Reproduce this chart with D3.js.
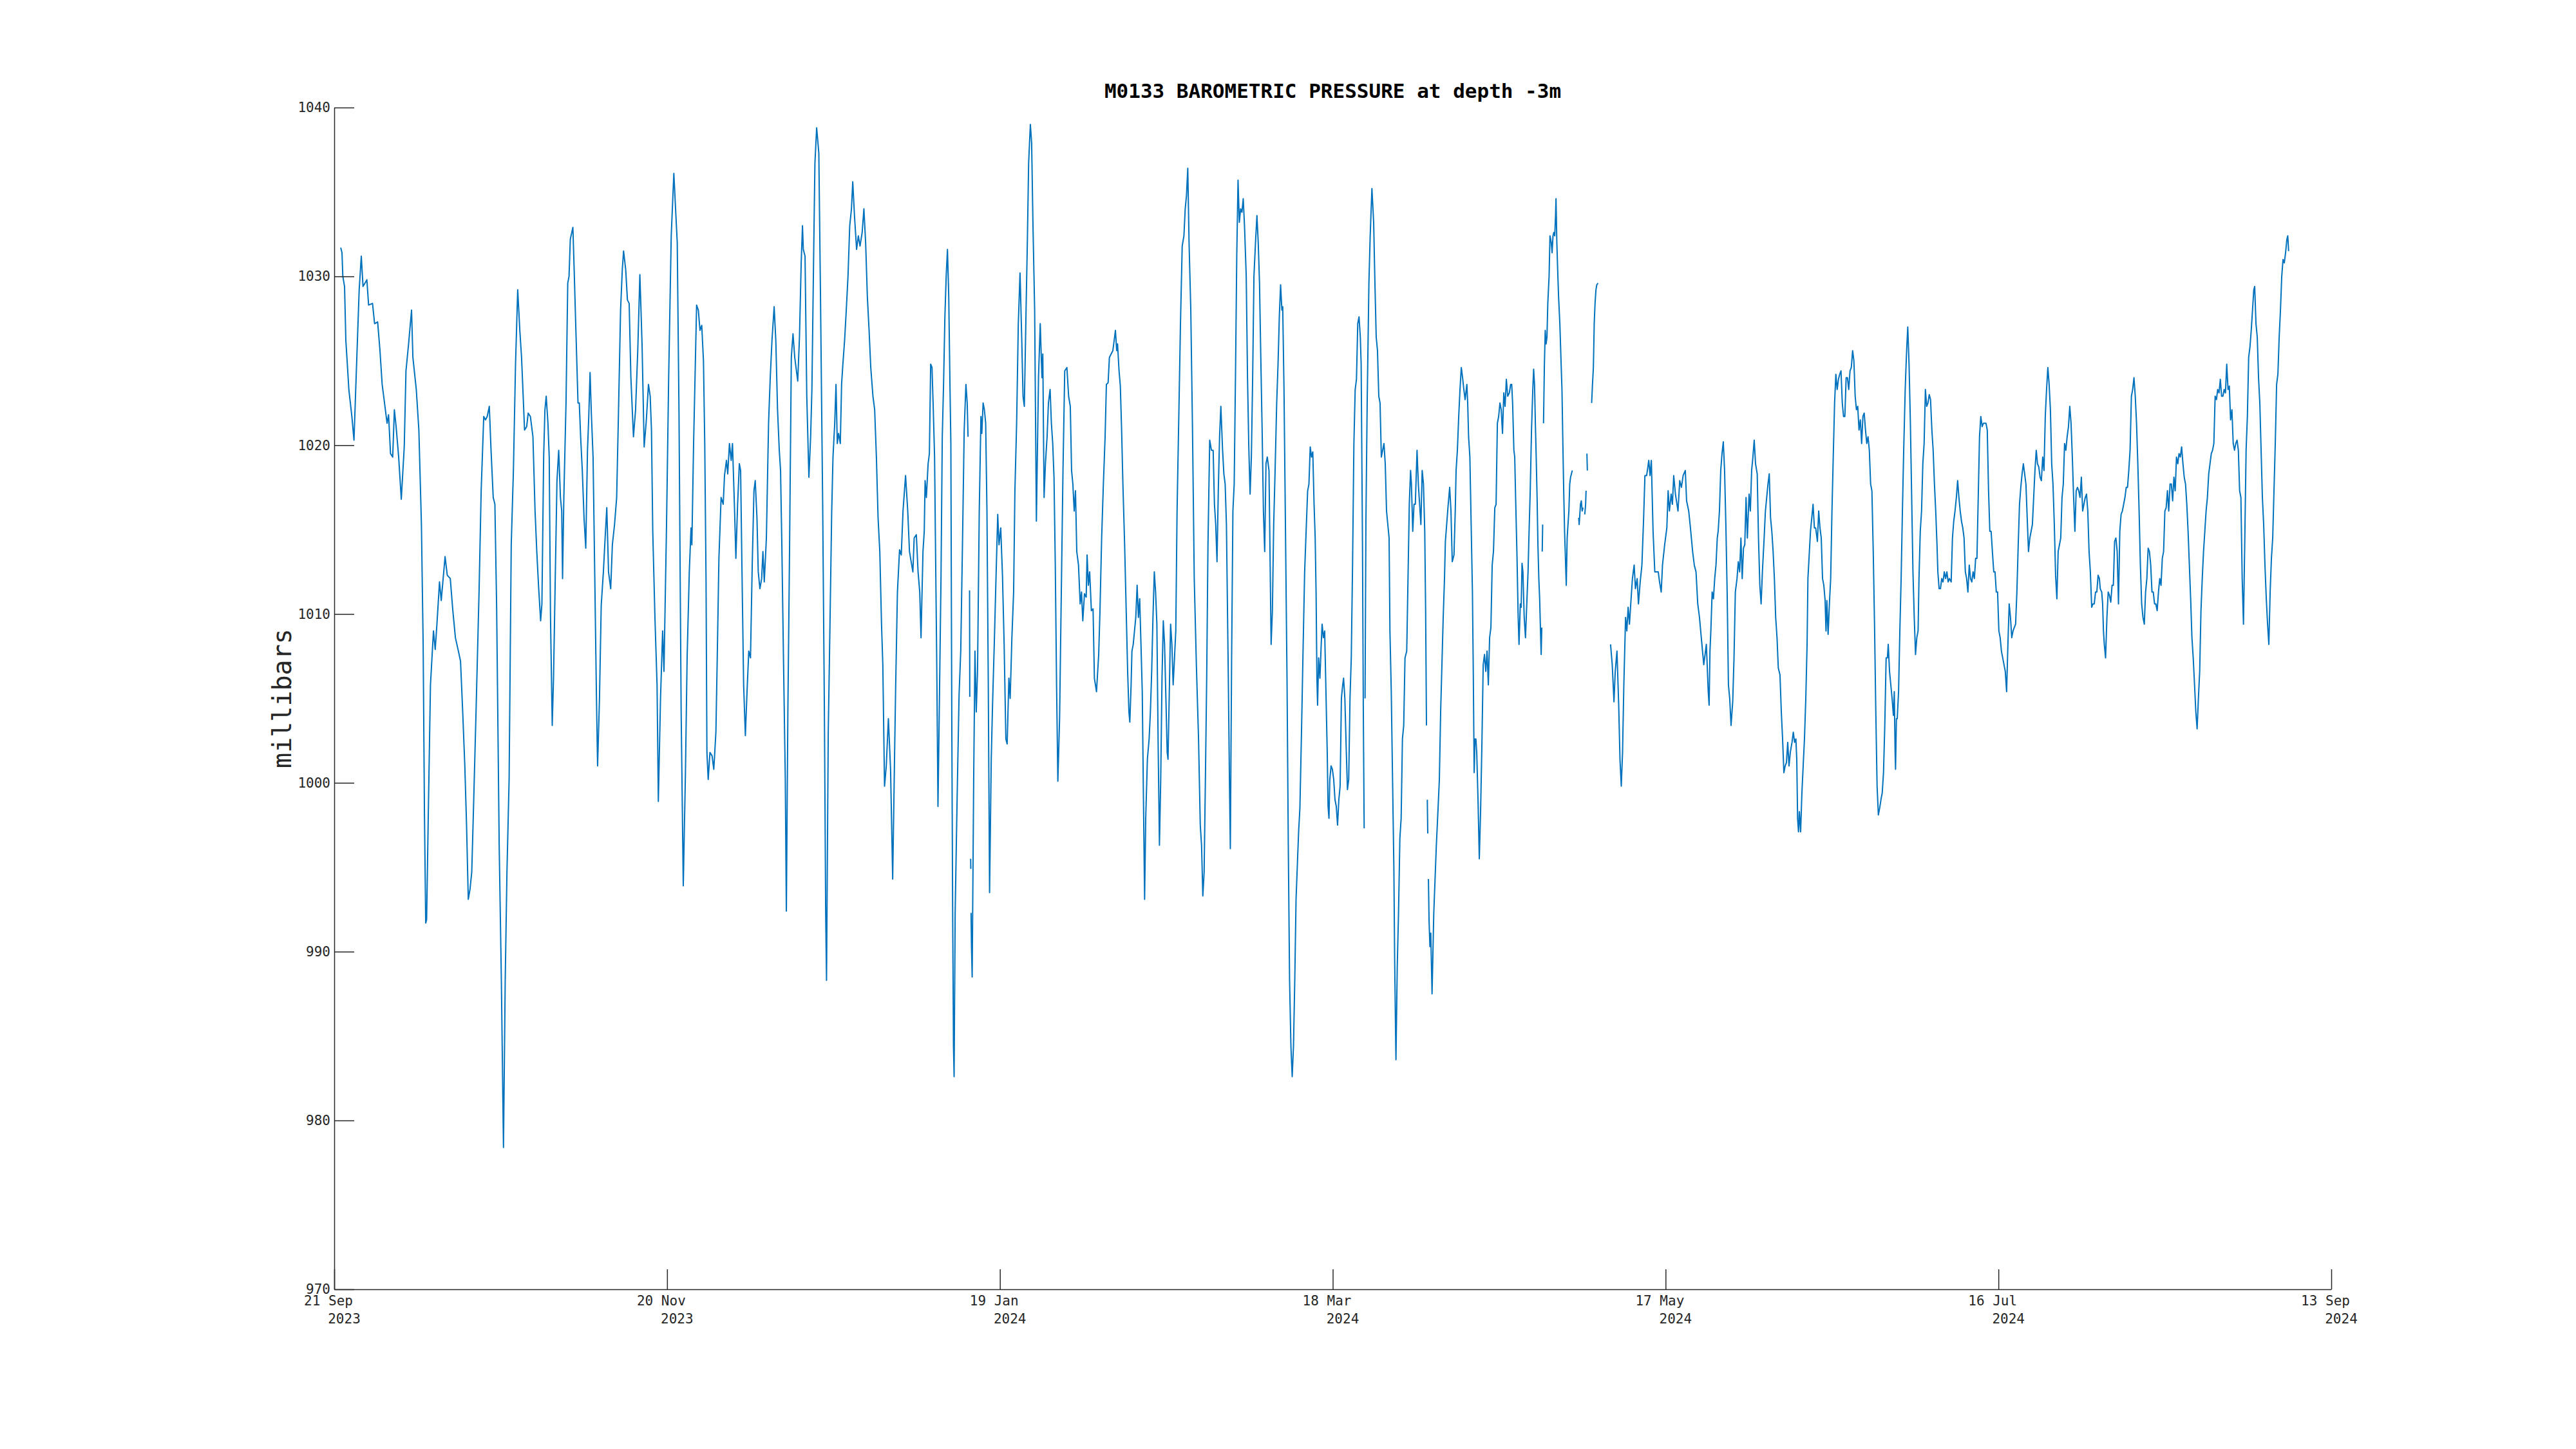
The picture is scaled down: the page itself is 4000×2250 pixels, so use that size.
<!DOCTYPE html>
<html>
<head>
<meta charset="utf-8">
<script src="https://cdn.jsdelivr.net/npm/d3@7"></script>
<style>
body { margin: 0; background: #fff; }
text { font-family: "DejaVu Sans Mono", monospace; }
</style>
</head>
<body>
<script>
// time axis: days counted from 21 Sep 2023
const startDate = Date.UTC(2023, 8, 21);
const spanDays = 358;
const tickDay = ["21 Sep", "20 Nov", "19 Jan", "18 Mar", "17 May", "16 Jul", "13 Sep"];
const tickYear = ["2023", "2023", "2024", "2024", "2024", "2024", "2024"];
const yTicks = [970, 980, 990, 1000, 1010, 1020, 1030, 1040];

// readings [day, millibars], null marks a gap in the record
// 21 Sep - 26 Oct
const seg01 = [
  [1.16,1031.7],[1.39,1031.4],[1.54,1030.0],[1.85,1029.4],[2.08,1026.2],[2.31,1025.0],[2.62,1023.3],[3.16,1021.7],[3.54,1020.3],[3.85,1023.3],
  [4.47,1029.2],[4.85,1031.2],[5.16,1029.4],[5.85,1029.8],[6.16,1028.3],[6.86,1028.4],[7.24,1027.2],[7.78,1027.3],[8.20,1025.6],[8.59,1023.6],
  [9.09,1022.3],[9.47,1021.3],[9.74,1021.8],[10.09,1019.5],[10.48,1019.3],[10.78,1022.1],[11.09,1021.1],[11.55,1019.3],[12.02,1016.8],[12.55,1019.9],
  [12.86,1024.4],[13.33,1026.0],[13.86,1028.0],[14.10,1025.2],[14.71,1023.3],[15.17,1020.9],[15.63,1015.3],[15.94,1008.2],[16.17,998.3],[16.40,991.7],
  [16.56,991.9],[16.87,998.3],[17.25,1005.8],[17.79,1009.0],[18.10,1007.9],[18.41,1009.4],[18.87,1011.9],[19.18,1010.8],[19.87,1013.4],[20.26,1012.3],
  [20.80,1012.1],[21.26,1010.2],[21.72,1008.6],[22.26,1007.8],[22.64,1007.2],[23.03,1004.2],[23.41,1001.0],[23.72,997.5],[24.03,993.1],[24.34,993.7],
  [24.65,994.7],[24.95,998.3],[25.42,1004.2],[25.96,1011.3],[26.34,1017.3],[26.80,1021.7],[27.11,1021.5],[27.42,1021.7],[27.80,1022.3],[28.11,1019.7],
  [28.50,1016.9],[28.80,1016.5],[29.11,1010.5],[29.57,996.3],[29.96,988.3],[30.34,978.4],[30.65,988.3],[30.96,994.7],[31.35,1000.2],[31.73,1014.1],
  [32.12,1018.5],[32.50,1024.8],[32.89,1029.2],[33.27,1026.8],[33.58,1025.2],[34.12,1020.9],[34.50,1021.1],[34.77,1021.9]
];
// 26 Oct - 30 Nov
const seg02 = [
  [35.16,1021.7],[35.62,1020.5],[36.00,1016.1],[36.31,1013.7],[36.62,1011.7],[37.00,1009.6],[37.23,1010.6],[37.54,1019.3],[37.77,1022.1],[38.00,1022.9],
  [38.31,1021.3],[38.54,1019.3],[38.77,1009.8],[39.08,1003.4],[39.31,1006.2],[39.62,1012.1],[39.93,1017.9],[40.24,1019.7],[40.55,1016.9],[40.78,1016.1],
  [40.93,1012.1],[41.16,1016.9],[41.55,1022.5],[41.86,1029.6],[42.09,1030.0],[42.32,1032.2],[42.78,1032.9],[43.01,1030.4],[43.32,1026.8],[43.70,1022.5],
  [43.93,1022.5],[44.17,1020.5],[44.47,1018.5],[44.78,1015.7],[45.09,1013.9],[45.40,1019.7],[45.63,1021.7],[45.86,1024.3],[46.09,1021.9],[46.40,1019.3],
  [46.71,1012.1],[47.01,1005.0],[47.21,1001.0],[47.55,1005.0],[47.86,1010.5],[48.25,1012.5],[48.56,1014.5],[48.86,1016.3],[49.17,1012.5],[49.56,1011.5],
  [49.86,1014.1],[50.25,1015.3],[50.63,1016.9],[50.94,1021.7],[51.33,1028.0],[51.64,1030.4],[51.87,1031.5],[52.25,1030.4],[52.56,1028.6],[52.87,1028.4],
  [53.18,1024.0],[53.64,1020.5],[54.02,1022.1],[54.41,1025.6],[54.79,1030.1],[55.18,1026.0],[55.56,1019.9],[55.95,1021.5],[56.33,1023.6],[56.64,1022.9],
  [56.87,1020.9],[57.10,1014.9],[57.49,1009.8],[57.87,1005.8],[58.10,998.9],[58.49,1005.0],[58.87,1009.0],[59.11,1006.6],[59.57,1015.3],[59.95,1024.0],
  [60.41,1032.4],[60.88,1036.1],[61.19,1034.0],[61.49,1032.0],[61.80,1022.1],[62.19,1004.2],[62.57,993.9],[62.96,1000.6],[63.26,1007.4],[63.65,1012.5],
  [63.96,1015.1],[64.11,1014.1],[64.42,1020.1],[64.73,1024.8],[64.96,1028.3],[65.27,1028.0],[65.57,1026.8],[65.88,1027.1],[66.19,1025.0],[66.42,1020.1],
  [66.65,1012.1],[66.81,1001.8],[67.04,1000.2],[67.35,1001.8],[67.73,1001.6],[68.04,1000.8],[68.42,1003.0],[68.66,1007.4],[68.96,1013.3],[69.35,1016.9],
  [69.73,1016.5],[69.96,1018.2]
];
// 30 Nov - 4 Jan
const seg03 = [
  [70.31,1019.1],[70.54,1018.3],[70.85,1020.1],[71.16,1019.1],[71.39,1020.1],[71.62,1017.7],[71.77,1016.1],[72.00,1013.3],[72.31,1016.5],[72.62,1018.9],
  [72.85,1018.5],[73.08,1012.9],[73.39,1005.8],[73.70,1002.8],[74.00,1005.4],[74.31,1007.8],[74.62,1007.4],[74.93,1012.9],[75.24,1017.3],[75.47,1017.9],
  [75.78,1015.7],[76.01,1012.5],[76.31,1011.5],[76.62,1012.1],[76.85,1013.7],[77.09,1011.9],[77.47,1014.5],[77.86,1021.3],[78.16,1024.0],[78.47,1026.2],
  [78.86,1028.2],[79.16,1026.2],[79.47,1022.1],[79.78,1019.7],[80.01,1018.5],[80.24,1014.1],[80.55,1007.0],[80.86,1000.2],[81.05,992.4],[81.32,1004.2],
  [81.63,1014.1],[81.94,1025.2],[82.24,1026.6],[82.55,1025.2],[82.78,1024.6],[83.09,1023.8],[83.40,1026.4],[83.71,1030.8],[83.94,1033.0],[84.09,1031.6],
  [84.40,1031.2],[84.71,1022.9],[85.09,1018.1],[85.40,1020.5],[85.63,1023.3],[85.94,1031.2],[86.17,1036.7],[86.48,1038.8],[86.87,1037.3],[87.17,1028.8],
  [87.56,1016.5],[87.87,1004.2],[88.10,992.3],[88.25,988.3],[88.56,1003.0],[88.87,1009.4],[89.18,1016.1],[89.41,1019.3],[89.72,1021.3],[89.95,1023.6],
  [90.18,1020.1],[90.41,1020.7],[90.72,1020.1],[90.95,1023.6],[91.18,1024.8],[91.49,1026.2],[91.79,1028.0],[92.10,1030.0],[92.41,1033.0],[92.72,1034.0],
  [92.95,1035.6],[93.26,1033.6],[93.64,1031.6],[93.95,1032.4],[94.26,1031.8],[94.64,1032.6],[94.95,1034.0],[95.26,1032.0],[95.57,1028.8],[95.88,1026.8],
  [96.18,1024.6],[96.57,1022.9],[96.88,1022.1],[97.19,1019.3],[97.49,1015.7],[97.80,1013.7],[98.11,1009.4],[98.34,1007.0],[98.65,999.8],[98.96,1001.0],
  [99.34,1003.8],[99.73,1000.8],[100.11,994.3],[100.42,1001.0],[100.65,1005.8],[100.96,1011.3],[101.34,1013.8],[101.65,1013.5],[101.96,1016.1],[102.42,1018.2],
  [102.81,1016.1],[103.12,1013.7],[103.42,1013.1],[103.73,1012.5],[103.96,1014.5],[104.35,1014.7],[104.66,1012.5],[104.96,1011.3],[105.19,1008.6]
];
// 4 Jan - 8 Feb
const seg04 = [
  [105.54,1013.7],[105.77,1014.9],[105.92,1017.9],[106.15,1016.9],[106.46,1018.9],[106.69,1019.5],[106.92,1024.8],[107.16,1024.6],[107.39,1022.1],[107.62,1019.3],
  [107.77,1014.5],[108.00,1007.4],[108.23,998.6],[108.46,1004.2],[108.77,1012.1],[109.00,1020.5],[109.23,1023.6],[109.47,1027.6],[109.70,1030.0],[109.93,1031.6],
  [110.16,1028.8],[110.39,1023.3],[110.54,1020.1],[110.70,1004.2],[110.85,993.1],[111.01,984.4],[111.12,982.6],[111.31,992.3],[111.62,998.3],[112.01,1005.2],
  [112.31,1007.8],[112.62,1014.1],[112.93,1020.9],[113.24,1023.6],[113.47,1022.5],[113.62,1020.5],[113.7,null],[113.89,1011.4],[113.93,1005.1],[114.0,null],
  [114.09,995.5],[114.12,994.9],[114.14,null],[114.16,992.3],[114.24,990.3],[114.36,988.5],[114.63,1000.2],[114.86,1007.8],[115.09,1004.2],[115.32,1006.6],
  [115.63,1016.1],[115.93,1021.7],[116.09,1020.7],[116.32,1022.5],[116.55,1022.1],[116.78,1021.3],[117.01,1016.1],[117.24,1006.2],[117.48,993.5],[117.78,1001.4],
  [118.01,1004.6],[118.32,1008.2],[118.63,1012.1],[118.94,1015.9],[119.17,1014.1],[119.48,1015.1],[119.79,1012.3],[120.09,1008.2],[120.40,1002.6],[120.63,1002.3],
  [120.94,1006.2],[121.17,1005.0],[121.48,1008.6],[121.79,1011.3],[122.02,1017.3],[122.33,1021.3],[122.63,1027.2],[122.94,1030.2],[123.25,1026.2],[123.48,1022.9],
  [123.71,1022.3],[124.02,1028.0],[124.25,1032.0],[124.48,1036.7],[124.79,1039.0],[125.02,1037.9],[125.25,1033.2],[125.56,1028.0],[125.87,1015.5],[126.25,1024.0],
  [126.56,1027.2],[126.87,1024.0],[127.02,1025.4],[127.25,1016.9],[127.49,1018.9],[127.79,1020.5],[128.03,1022.5],[128.33,1023.3],[128.56,1021.3],[128.80,1020.1],
  [129.03,1018.1],[129.26,1012.9],[129.49,1005.8],[129.72,1000.1],[130.03,1003.8],[130.34,1011.3],[130.64,1018.5],[130.95,1024.4],[131.34,1024.6],[131.65,1022.9],
  [131.95,1022.3],[132.18,1018.5],[132.41,1017.7],[132.65,1016.1],[132.88,1017.3],[133.11,1013.7],[133.42,1012.9],[133.72,1010.6],[133.96,1011.3],[134.19,1009.6],
  [134.49,1011.2],[134.80,1011.0],[134.96,1013.5],[135.19,1011.7],[135.42,1012.5],[135.73,1010.2],[136.03,1010.3],[136.27,1006.2],[136.65,1005.4],[137.04,1007.6],
  [137.27,1010.2],[137.57,1014.5],[137.88,1017.7],[138.19,1020.5],[138.42,1023.6],[138.73,1023.7],[138.96,1025.2],[139.27,1025.4],[139.58,1025.6],[139.81,1026.2],
  [140.04,1026.8],[140.27,1025.6],[140.42,1026.0]
];
// 8 Feb - 15 Mar
const seg05 = [
  [140.69,1024.4],[140.92,1023.5],[141.15,1020.9],[141.38,1017.7],[141.69,1014.1],[142.00,1009.8],[142.23,1006.6],[142.46,1004.2],[142.62,1003.6],[142.85,1005.8],
  [143.00,1007.8],[143.23,1008.2],[143.46,1009.0],[143.69,1009.8],[143.93,1011.7],[144.16,1009.8],[144.39,1010.9],[144.62,1008.2],[144.85,1005.4],[145.08,998.6],
  [145.27,993.1],[145.47,997.9],[145.77,1001.4],[146.08,1002.6],[146.31,1004.2],[146.54,1006.6],[146.77,1009.8],[147.01,1012.5],[147.24,1011.3],[147.47,1009.4],
  [147.70,1002.2],[147.93,996.3],[148.16,1000.2],[148.39,1006.2],[148.62,1009.6],[148.85,1008.2],[149.09,1005.0],[149.32,1001.8],[149.47,1001.4],[149.70,1005.4],
  [149.93,1009.4],[150.16,1008.2],[150.39,1005.8],[150.63,1007.4],[150.86,1009.0],[151.09,1016.1],[151.40,1021.7],[151.70,1027.2],[152.01,1031.8],[152.32,1032.4],
  [152.55,1034.0],[152.78,1034.8],[153.01,1036.4],[153.24,1032.0],[153.55,1028.0],[153.86,1020.9],[154.17,1012.1],[154.55,1007.0],[154.94,1002.6],[155.25,997.5],
  [155.48,996.3],[155.71,993.3],[155.94,994.7],[156.17,1000.2],[156.40,1006.2],[156.63,1014.1],[156.94,1020.3],[157.25,1019.7],[157.56,1019.7],[157.79,1016.5],
  [158.02,1015.3],[158.25,1013.1],[158.48,1017.3],[158.71,1020.5],[158.94,1022.3],[159.25,1019.7],[159.48,1018.3],[159.71,1017.7],[159.94,1015.3],[160.25,1007.0],
  [160.48,1000.2],[160.64,996.1],[160.87,1007.4],[161.10,1016.1],[161.33,1017.7],[161.56,1024.0],[161.79,1031.2],[162.02,1035.7],[162.25,1033.2],[162.48,1034.0],
  [162.72,1033.8],[162.95,1034.6],[163.18,1033.0],[163.49,1030.0],[163.72,1024.0],[163.95,1019.9],[164.18,1017.1],[164.41,1019.3],[164.64,1024.0],[164.87,1030.0],
  [165.18,1032.2],[165.41,1033.6],[165.64,1032.0],[165.87,1029.6],[166.10,1025.2],[166.34,1020.9],[166.57,1016.1],[166.80,1013.7],[167.03,1018.9],[167.26,1019.3],
  [167.57,1018.5],[167.72,1014.5],[167.95,1008.2],[168.18,1010.2],[168.41,1015.3],[168.65,1018.3],[168.95,1022.5],[169.19,1024.8],[169.42,1027.6],[169.65,1029.5],
  [169.88,1028.0],[170.03,1028.2],[170.26,1023.3],[170.49,1016.1],[170.80,1006.2],[171.03,996.3],[171.26,988.3],[171.50,984.4],[171.73,982.6],[171.96,984.4],
  [172.19,988.3],[172.42,993.1],[172.65,995.1],[172.88,997.1],[173.11,998.5],[173.42,1003.4],[173.65,1007.4],[173.96,1012.5],[174.27,1015.3],[174.50,1017.3],
  [174.73,1017.7],[174.96,1019.9],[175.19,1019.3],[175.42,1019.6],[175.65,1016.5]
];
// 15 Mar - 19 Apr
const seg06 = [
  [175.85,1014.5],[176.01,1011.3],[176.16,1006.2],[176.28,1004.6],[176.47,1007.4],[176.70,1006.2],[176.93,1008.2],[177.09,1009.4],[177.32,1008.6],[177.55,1009.0],
  [177.78,1005.4],[178.01,1001.8],[178.16,998.6],[178.32,997.9],[178.47,1000.2],[178.70,1001.0],[178.93,1000.8],[179.17,1000.2],[179.40,999.0],[179.63,998.6],
  [179.86,997.5],[180.09,999.0],[180.32,999.8],[180.55,1005.0],[180.78,1005.8],[180.94,1006.2],[181.17,1005.0],[181.40,1002.2],[181.63,999.6],[181.86,1000.2],
  [182.09,1005.0],[182.32,1007.4],[182.55,1012.9],[182.79,1020.1],[183.02,1023.3],[183.25,1023.9],[183.48,1027.2],[183.71,1027.6],[183.94,1026.4],[184.09,1024.8],
  [184.33,1014.1],[184.48,1004.2],[184.63,997.3],[184.7,null],[184.79,1005.0],[184.94,1015.3],[185.17,1022.5],[185.48,1029.6],[185.71,1032.4],[186.02,1035.2],
  [186.33,1033.2],[186.56,1029.6],[186.79,1026.4],[187.02,1025.6],[187.25,1022.9],[187.48,1022.5],[187.71,1019.3],[187.95,1019.7],[188.18,1020.1],[188.41,1018.9],
  [188.64,1016.1],[188.87,1015.3],[189.10,1014.5],[189.25,1009.0],[189.49,1005.4],[189.72,1000.2],[189.95,995.1],[190.10,989.5],[190.26,985.2],[190.33,983.6],
  [190.56,989.1],[190.79,992.3],[191.03,996.7],[191.26,997.9],[191.49,1002.6],[191.72,1003.4],[191.95,1007.4],[192.26,1007.8],[192.49,1012.1],[192.72,1016.5],
  [192.95,1018.5],[193.10,1017.7],[193.34,1014.9],[193.57,1016.5],[193.80,1016.5],[194.11,1019.7],[194.34,1017.7],[194.57,1016.5],[194.80,1015.3],[195.03,1018.5],
  [195.26,1017.7],[195.49,1014.9],[195.65,1010.2],[195.80,1003.4],[195.88,null],[195.95,999.0],[196.03,997.0],[196.09,null],[196.15,994.3],[196.26,991.9],
  [196.42,990.3],[196.57,991.1],[196.80,987.5],[197.11,992.3],[197.34,994.3],[197.57,996.3],[197.88,998.5],[198.11,1000.2],[198.34,1004.2],[198.57,1007.0],
  [198.80,1009.8],[199.03,1012.1],[199.19,1014.3],[199.42,1015.3],[199.65,1016.3],[199.96,1017.5],[200.19,1016.1],[200.42,1013.1],[200.73,1013.5],[200.96,1016.1],
  [201.11,1018.5],[201.34,1019.7],[201.58,1021.7],[201.81,1023.3],[202.04,1024.6],[202.27,1024.0],[202.50,1023.3],[202.73,1022.7],[203.04,1023.6],[203.19,1022.5],
  [203.35,1020.5],[203.58,1019.3],[203.81,1015.3],[204.04,1011.3],[204.19,1006.6],[204.35,1000.6],[204.50,1002.6],[204.66,1002.6],[204.81,1001.8],[205.04,999.0],
  [205.27,995.5],[205.50,998.3],[205.73,1002.2],[205.97,1007.0],[206.20,1007.6],[206.43,1006.6],[206.66,1007.8],[206.89,1005.8],[207.12,1008.6],[207.35,1009.2],
  [207.58,1012.9],[207.81,1013.7],[208.05,1016.3],[208.28,1016.5],[208.51,1021.3],[208.74,1021.7],[208.97,1022.5],[209.20,1022.1],[209.43,1020.7],[209.66,1023.1],
  [209.89,1022.3],[210.12,1023.9],[210.36,1022.9],[210.66,1023.1],[210.89,1023.6]
];
// 19 Apr - 24 May
const seg07 = [
  [211.08,1023.6],[211.24,1022.5],[211.47,1019.7],[211.62,1019.3],[211.78,1016.9],[212.01,1013.7],[212.24,1009.8],[212.39,1008.2],[212.62,1010.6],[212.78,1010.4],
  [212.93,1013.0],[213.09,1012.5],[213.32,1009.8],[213.55,1008.6],[213.78,1010.6],[214.01,1012.5],[214.16,1014.5],[214.40,1017.3],[214.63,1020.9],[214.86,1023.3],
  [215.01,1024.5],[215.17,1023.6],[215.32,1021.3],[215.47,1019.3],[215.63,1016.9],[215.78,1014.1],[215.94,1012.1],[216.09,1010.9],[216.24,1009.0],[216.36,1007.6],
  [216.47,1009.2],[216.51,null],[216.55,1013.7],[216.63,1015.3],[216.7,null],[216.78,1021.3],[216.94,1024.8],[217.09,1026.8],[217.24,1026.0],[217.40,1026.4],
  [217.55,1028.4],[217.78,1030.0],[217.94,1032.4],[218.17,1032.0],[218.32,1031.4],[218.48,1032.4],[218.63,1032.6],[218.79,1032.4],[218.94,1033.6],[219.02,1034.6],
  [219.17,1032.0],[219.32,1030.4],[219.48,1028.8],[219.71,1027.2],[219.94,1024.8],[220.09,1023.3],[220.25,1020.1],[220.40,1017.3],[220.56,1014.9],[220.71,1013.3],
  [220.86,1011.7],[221.02,1014.5],[221.17,1015.3],[221.33,1016.1],[221.48,1017.7],[221.63,1018.1],[221.79,1018.3],[221.94,1018.5],[222.5,null],[223.10,1015.7],
  [223.17,1015.3],[223.41,1016.5],[223.56,1016.7],[223.71,1016.1],[223.87,1016.3],[224.0,null],[224.18,1015.9],[224.33,1016.5],[224.41,1017.3],[224.5,null],
  [224.56,1019.5],[224.64,1018.5],[225.0,null],[225.41,1022.5],[225.56,1023.6],[225.72,1024.6],[225.87,1027.2],[226.02,1028.4],[226.18,1029.2],[226.33,1029.5],
  [226.56,1029.6],[227.5,null],[228.80,1008.2],[229.10,1007.0],[229.41,1004.8],[229.64,1006.6],[229.95,1007.8],[230.26,1004.6],[230.49,1001.4],[230.72,999.8],
  [230.95,1001.8],[231.18,1005.8],[231.49,1009.8],[231.72,1009.0],[231.95,1010.4],[232.19,1009.4],[232.42,1010.6],[232.72,1012.1],[233.03,1012.9],[233.26,1011.5],
  [233.57,1012.1],[233.80,1010.6],[234.11,1011.9],[234.42,1012.9],[234.73,1015.7],[234.96,1018.2],[235.27,1018.2],[235.65,1019.1],[235.88,1018.2],[236.11,1019.1],
  [236.42,1014.9],[236.73,1012.5],[237.04,1012.5],[237.35,1012.5],[237.58,1011.9],[237.88,1011.3],[238.11,1012.9],[238.50,1014.1],[238.89,1015.1],[239.12,1017.3],
  [239.35,1016.1],[239.66,1017.1],[239.89,1016.5],[240.12,1018.2],[240.43,1017.1],[240.89,1016.1],[241.20,1017.9],[241.50,1017.5],[241.81,1018.2],[242.20,1018.5],
  [242.43,1016.7],[242.81,1016.1],[243.12,1015.1],[243.51,1013.7],[243.81,1012.9],[244.12,1012.5],[244.43,1010.6],[244.74,1009.8],[245.12,1008.4],[245.51,1007.0],
  [245.74,1007.6],[245.97,1008.2],[246.12,1007.0]
];
// 24 May - 28 Jun
const seg08 = [
  [246.31,1005.4],[246.47,1004.6],[246.62,1007.8],[246.78,1009.0],[247.01,1011.3],[247.24,1010.9],[247.47,1012.1],[247.70,1012.9],[247.93,1014.5],[248.09,1014.9],
  [248.32,1016.1],[248.55,1018.5],[248.78,1019.5],[249.01,1020.2],[249.24,1018.5],[249.47,1015.3],[249.70,1011.3],[249.93,1005.8],[250.16,1005.0],[250.40,1003.4],
  [250.70,1004.8],[250.93,1007.4],[251.17,1011.3],[251.47,1012.1],[251.70,1013.1],[251.94,1012.5],[252.17,1014.5],[252.40,1012.1],[252.63,1013.9],[252.86,1014.1],
  [253.09,1016.9],[253.32,1014.5],[253.63,1017.1],[253.86,1016.1],[254.09,1018.5],[254.32,1019.3],[254.55,1020.3],[254.79,1018.9],[255.09,1018.3],[255.32,1014.5],
  [255.56,1011.7],[255.79,1010.6],[256.02,1012.5],[256.33,1014.5],[256.56,1016.1],[256.79,1016.9],[257.02,1017.7],[257.25,1018.3],[257.48,1015.7],[257.71,1014.9],
  [257.94,1013.7],[258.17,1012.1],[258.40,1009.8],[258.64,1008.6],[258.87,1006.8],[259.17,1006.4],[259.41,1004.2],[259.64,1002.6],[259.87,1000.6],[260.10,1001.0],
  [260.33,1001.2],[260.56,1002.4],[260.79,1001.0],[261.02,1001.8],[261.33,1002.4],[261.56,1003.0],[261.79,1002.4],[262.02,1002.6],[262.18,1001.4],[262.33,997.9],
  [262.49,997.1],[262.64,998.3],[262.87,997.1],[263.10,999.4],[263.33,1001.0],[263.56,1002.6],[263.80,1005.0],[264.03,1008.2],[264.18,1012.1],[264.41,1013.5],
  [264.64,1014.9],[264.87,1015.7],[265.10,1016.5],[265.34,1015.1],[265.57,1015.1],[265.88,1014.3],[266.11,1016.1],[266.34,1015.1],[266.57,1014.5],[266.80,1012.1],
  [267.03,1011.7],[267.26,1010.8],[267.42,1009.0],[267.57,1010.8],[267.80,1008.8],[268.03,1010.6],[268.26,1012.1],[268.49,1016.1],[268.72,1019.3],[268.96,1022.5],
  [269.19,1024.2],[269.42,1023.3],[269.65,1023.9],[269.88,1024.2],[270.11,1024.4],[270.34,1022.5],[270.57,1021.7],[270.80,1021.7],[271.03,1024.0],[271.27,1024.0],
  [271.50,1023.3],[271.73,1024.4],[271.96,1024.6],[272.19,1025.6],[272.42,1025.0],[272.65,1022.9],[272.88,1022.1],[273.11,1022.3],[273.34,1020.9],[273.58,1021.5],
  [273.81,1020.1],[274.04,1021.7],[274.27,1021.9],[274.50,1020.9],[274.73,1020.1],[274.96,1020.5],[275.19,1019.7],[275.42,1017.7],[275.65,1017.3],[275.89,1013.7],
  [276.12,1009.4],[276.35,1004.2],[276.58,999.8],[276.81,998.1],[277.04,998.5],[277.27,999.0],[277.50,999.4],[277.73,1000.6],[277.96,1003.4],[278.20,1007.4],
  [278.43,1007.4],[278.58,1008.2],[278.81,1006.6],[279.04,1005.8],[279.27,1005.0],[279.50,1004.0],[279.66,1005.4],[279.81,1001.8],[279.89,1000.8],[280.04,1003.8],
  [280.19,1003.8],[280.43,1005.4],[280.66,1009.0],[280.89,1012.1],[281.12,1016.1],[281.35,1019.7]
];
// 28 Jun - 3 Aug
const seg09 = [
  [281.62,1023.3],[281.78,1024.8],[281.93,1026.0],[282.08,1027.0],[282.31,1024.8],[282.55,1021.3],[282.78,1016.9],[283.01,1012.5],[283.24,1009.8],[283.47,1007.6],
  [283.70,1008.6],[283.93,1009.0],[284.09,1012.1],[284.32,1014.9],[284.55,1016.1],[284.78,1018.9],[285.01,1020.1],[285.24,1023.3],[285.47,1022.3],[285.70,1022.5],
  [285.93,1023.0],[286.16,1022.7],[286.40,1020.9],[286.63,1019.7],[286.86,1017.7],[287.09,1016.1],[287.32,1014.1],[287.47,1012.5],[287.70,1011.5],[287.94,1011.5],
  [288.17,1012.1],[288.40,1011.9],[288.63,1012.5],[288.86,1012.1],[289.09,1012.5],[289.32,1011.9],[289.55,1012.1],[289.86,1011.9],[290.09,1014.5],[290.32,1015.5],
  [290.55,1016.1],[290.79,1016.9],[291.02,1017.9],[291.25,1016.9],[291.48,1016.1],[291.71,1015.5],[291.94,1015.1],[292.17,1014.5],[292.40,1012.5],[292.63,1012.1],
  [292.86,1011.3],[293.10,1012.9],[293.33,1012.1],[293.56,1011.9],[293.79,1012.5],[294.02,1012.1],[294.25,1013.3],[294.48,1013.3],[294.71,1016.9],[294.94,1020.5],
  [295.17,1021.7],[295.41,1021.1],[295.64,1021.3],[295.87,1021.3],[296.10,1021.3],[296.33,1020.9],[296.56,1017.3],[296.79,1014.9],[297.02,1014.9],[297.25,1013.7],
  [297.49,1012.5],[297.72,1012.5],[297.95,1011.3],[298.18,1011.3],[298.41,1009.0],[298.64,1008.6],[298.87,1007.8],[299.10,1007.4],[299.33,1007.0],[299.56,1006.6],
  [299.80,1005.4],[300.03,1008.2],[300.26,1010.6],[300.49,1009.8],[300.72,1008.6],[300.95,1009.0],[301.18,1009.2],[301.41,1009.4],[301.64,1011.3],[301.88,1014.1],
  [302.11,1016.5],[302.34,1017.5],[302.57,1018.3],[302.80,1018.9],[303.03,1018.3],[303.26,1017.7],[303.49,1015.7],[303.72,1013.7],[303.96,1014.5],[304.19,1014.9],
  [304.42,1015.3],[304.65,1016.9],[304.88,1018.5],[305.11,1019.7],[305.34,1018.9],[305.57,1018.7],[305.80,1018.1],[306.03,1017.9],[306.27,1019.3],[306.50,1018.5],
  [306.73,1021.7],[306.96,1023.3],[307.19,1024.6],[307.42,1023.6],[307.65,1022.1],[307.88,1018.9],[308.11,1017.7],[308.35,1015.3],[308.58,1012.3],[308.81,1010.9],
  [309.04,1013.7],[309.27,1014.1],[309.50,1014.5],[309.73,1016.9],[309.96,1017.7],[310.19,1020.1],[310.42,1019.7],[310.65,1020.5],[310.89,1021.1],[311.12,1022.3],
  [311.35,1021.3],[311.58,1019.3],[311.81,1016.9],[312.04,1014.9],[312.27,1017.3],[312.50,1017.5],[312.73,1017.3],[312.96,1016.9],[313.20,1018.1],[313.43,1016.1],
  [313.66,1016.5],[313.89,1016.9],[314.12,1017.1],[314.35,1016.1],[314.58,1013.7],[314.81,1012.5],[315.05,1010.4],[315.28,1010.6],[315.51,1010.6],[315.74,1011.3],
  [315.97,1011.3],[316.20,1012.3],[316.43,1012.1],[316.58,1011.5]
];
// 3 Aug - 4 Sep
const seg10 = [
  [316.85,1011.3],[317.01,1010.6],[317.16,1009.0],[317.31,1008.2],[317.54,1007.4],[317.78,1009.8],[318.01,1011.3],[318.24,1011.1],[318.47,1010.7],[318.70,1011.7],
  [318.93,1011.7],[319.16,1014.3],[319.39,1014.5],[319.62,1013.7],[319.85,1010.6],[320.09,1014.9],[320.32,1015.9],[320.55,1016.1],[320.78,1016.5],[321.01,1016.9],
  [321.24,1017.5],[321.47,1017.5],[321.70,1018.5],[321.93,1019.7],[322.17,1022.9],[322.40,1023.3],[322.63,1024.0],[322.86,1022.9],[323.09,1021.3],[323.32,1018.9],
  [323.55,1016.1],[323.78,1012.9],[324.01,1010.6],[324.24,1009.8],[324.48,1009.4],[324.71,1011.3],[324.94,1012.1],[325.17,1013.9],[325.40,1013.7],[325.63,1012.9],
  [325.86,1011.3],[326.09,1011.3],[326.32,1010.6],[326.55,1010.6],[326.79,1010.2],[327.02,1011.3],[327.25,1012.1],[327.48,1011.7],[327.71,1013.3],[327.94,1013.7],
  [328.17,1016.1],[328.40,1016.3],[328.63,1017.3],[328.86,1016.1],[329.10,1017.7],[329.33,1017.7],[329.56,1016.7],[329.79,1018.1],[330.02,1017.3],[330.25,1019.3],
  [330.48,1018.9],[330.71,1019.5],[330.94,1019.3],[331.17,1019.9],[331.41,1018.9],[331.64,1018.1],[331.87,1017.7],[332.10,1016.5],[332.33,1014.9],[332.56,1012.9],
  [332.79,1010.9],[333.02,1008.6],[333.25,1007.4],[333.49,1005.8],[333.72,1004.2],[333.95,1003.2],[334.18,1005.0],[334.41,1006.6],[334.64,1010.2],[334.87,1012.1],
  [335.10,1013.7],[335.33,1014.9],[335.56,1016.1],[335.79,1016.9],[336.03,1018.3],[336.26,1018.9],[336.49,1019.5],[336.72,1019.7],[336.95,1020.1],[337.18,1022.9],
  [337.41,1022.7],[337.64,1023.3],[337.88,1023.1],[338.11,1023.9],[338.34,1022.9],[338.57,1022.9],[338.80,1023.3],[339.03,1023.1],[339.26,1024.8],[339.49,1023.3],
  [339.72,1023.5],[339.95,1021.5],[340.19,1022.1],[340.42,1020.1],[340.65,1019.7],[340.88,1020.1],[341.11,1020.3],[341.34,1019.7],[341.57,1017.3],[341.80,1016.9],
  [342.03,1012.1],[342.26,1009.4],[342.50,1014.5],[342.73,1019.7],[342.96,1021.7],[343.19,1025.2],[343.42,1025.8],[343.65,1026.8],[343.88,1028.0],[344.11,1029.2],
  [344.27,1029.4],[344.50,1027.2],[344.73,1026.4],[344.96,1024.0],[345.19,1022.5],[345.42,1019.7],[345.65,1016.9],[345.88,1015.3],[346.11,1012.9],[346.35,1010.9],
  [346.58,1009.4],[346.81,1008.2],[347.04,1011.3],[347.27,1013.3],[347.50,1014.5],[347.73,1017.3],[347.96,1020.1],[348.20,1023.6],[348.43,1024.2],[348.66,1026.4],
  [348.89,1028.0],[349.12,1030.0],[349.35,1031.0],[349.58,1030.8],[349.81,1031.4],[350.04,1032.2],[350.20,1032.4],[350.35,1031.5]
];

const readings = [].concat(seg01, seg02, seg03, seg04, seg05, seg06, seg07, seg08, seg09, seg10);

const W = 4000, H = 2250;
const plot = { left: 519, right: 3620, top: 167, bottom: 2002 };
const axisColor = "#262626";
const dayMs = 864e5;

const svg = d3.select("body").append("svg")
  .attr("width", W).attr("height", H)
  .style("display", "block");
svg.append("rect").attr("width", W).attr("height", H).attr("fill", "#fff");

const x = d3.scaleUtc()
  .domain([new Date(startDate), new Date(startDate + spanDays * dayMs)])
  .range([plot.left, plot.right]);
const y = d3.scaleLinear().domain([970, 1040]).range([plot.bottom, plot.top]);

// the pressure trace
const line = d3.line()
  .defined(d => d[1] !== null)
  .x(d => x(new Date(startDate + d[0] * dayMs)))
  .y(d => y(d[1]));

svg.append("path")
  .datum(readings)
  .attr("d", line)
  .attr("fill", "none")
  .attr("stroke", "#0072BD")
  .attr("stroke-width", 2)
  .attr("stroke-linejoin", "round");

// x axis, ticks pointing inward
const tickDates = tickDay.map((_, i) => new Date(startDate + i * spanDays / 6 * dayMs));
const gx = svg.append("g")
  .attr("transform", `translate(0,${plot.bottom})`)
  .call(d3.axisBottom(x).tickValues(tickDates).tickSizeInner(-31).tickSizeOuter(0).tickFormat(""));
gx.select(".domain").attr("stroke", axisColor).attr("stroke-width", 1.5);
gx.selectAll(".tick line").attr("stroke", axisColor).attr("stroke-width", 1.5);
gx.selectAll(".tick text").remove();
gx.selectAll(".tick").each(function(d, i) {
  const g = d3.select(this);
  g.append("text").attr("x", -9.5).attr("y", 25)
    .attr("text-anchor", "middle").attr("font-size", 21).attr("fill", axisColor)
    .text(tickDay[i]);
  g.append("text").attr("x", 15).attr("y", 53)
    .attr("text-anchor", "middle").attr("font-size", 21).attr("fill", axisColor)
    .text(tickYear[i]);
});

// y axis
const gy = svg.append("g")
  .attr("transform", `translate(${plot.left},0)`)
  .call(d3.axisLeft(y).tickValues(yTicks).tickFormat(d3.format("d"))
    .tickSizeInner(-31).tickSizeOuter(0).tickPadding(6));
gy.attr("font-family", null).attr("font-size", null);
gy.select(".domain").attr("stroke", axisColor).attr("stroke-width", 1.5);
gy.selectAll(".tick line").attr("stroke", axisColor).attr("stroke-width", 1.5);
gy.selectAll(".tick text").attr("font-size", 21).attr("fill", axisColor);

// title and label
svg.append("text")
  .attr("x", (plot.left + plot.right) / 2).attr("y", 152)
  .attr("text-anchor", "middle")
  .attr("font-size", 31).attr("font-weight", "bold").attr("fill", "#000")
  .text("M0133 BAROMETRIC PRESSURE at depth -3m");

svg.append("text")
  .attr("transform", `translate(452,${(plot.top + plot.bottom) / 2}) rotate(-90)`)
  .attr("text-anchor", "middle")
  .attr("font-size", 40).attr("fill", axisColor)
  .text("millibars");
</script>
</body>
</html>
